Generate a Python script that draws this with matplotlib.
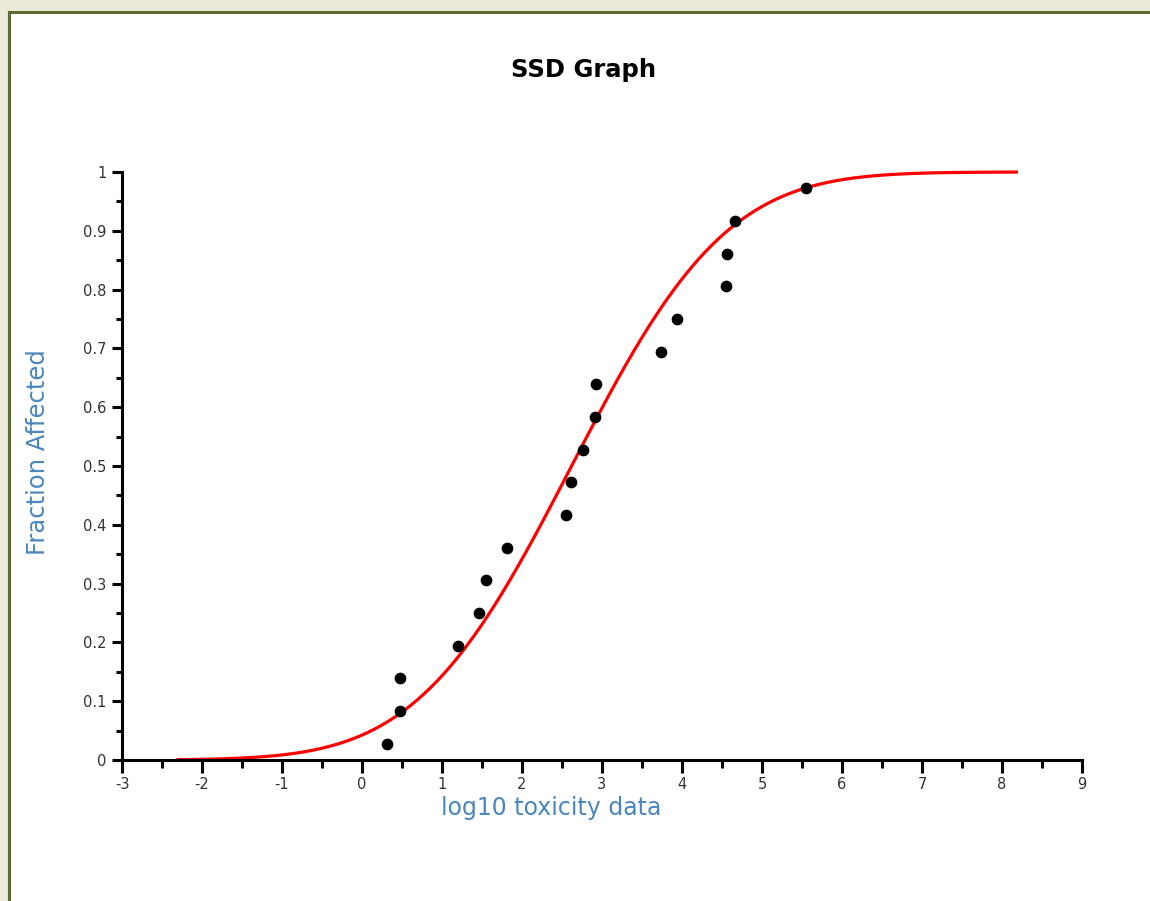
import math

import numpy as np
import matplotlib
matplotlib.use("Agg")
import matplotlib.pyplot as plt
from matplotlib.patches import Rectangle
from matplotlib.ticker import MultipleLocator

# observed species sensitivities (log10 toxicity) and their plotting positions
log_tox = [0.31, 0.47, 0.48, 1.20, 1.46, 1.55, 1.81, 2.55, 2.61,
           2.76, 2.91, 2.93, 3.74, 3.94, 4.55, 4.56, 4.66, 5.55]
frac_affected = [0.028, 0.083, 0.139, 0.194, 0.250, 0.306, 0.361, 0.417, 0.472,
                 0.528, 0.583, 0.639, 0.694, 0.750, 0.806, 0.861, 0.917, 0.972]

# fitted log-normal SSD (mean, sd of log10 toxicity) and drawn range
fit_mu = 2.62
fit_sigma = 1.52
curve_range = (-2.3, 8.18)

x_ticks = list(range(-3, 10))
y_ticks = [0, 0.1, 0.2, 0.3, 0.4, 0.5, 0.6, 0.7, 0.8, 0.9, 1]

blue = "#4A86BE"

fig = plt.figure(figsize=(11.5, 9.01), dpi=100)
fig.patch.set_facecolor("#ECE9D8")
# white panel with olive border
fig.patches.append(Rectangle((9 / 1150, -0.1), 1.2, 1 - 12 / 901 + 0.1,
                             transform=fig.transFigure, facecolor="white",
                             edgecolor="#5B6B35", linewidth=2.2, zorder=-5))

ax = fig.add_axes([122 / 1150, 1 - 760 / 901, 960 / 1150, 588 / 901])
ax.set_facecolor("none")
ax.set_zorder(2)

xc = np.linspace(curve_range[0], curve_range[1], 400)
yc = [0.5 * (1 + math.erf((v - fit_mu) / (fit_sigma * math.sqrt(2)))) for v in xc]
ax.plot(xc, yc, color="#FF0000", lw=2.3, zorder=2, clip_on=False)
ax.scatter(log_tox, frac_affected, s=55, color="black", zorder=3, clip_on=False)

ax.set_xlim(-3, 9)
ax.set_ylim(0, 1)
ax.set_xticks(x_ticks)
ax.set_xticklabels([str(t) for t in x_ticks])
ax.set_yticks(y_ticks)
ax.set_yticklabels(["0"] + ["%.1f" % t for t in y_ticks[1:-1]] + ["1"])
ax.xaxis.set_minor_locator(MultipleLocator(0.5))
ax.yaxis.set_minor_locator(MultipleLocator(0.05))

for s in ["top", "right"]:
    ax.spines[s].set_visible(False)
for s in ["left", "bottom"]:
    ax.spines[s].set_linewidth(2.2)
    ax.spines[s].set_color("black")

ax.tick_params(axis="x", which="major", length=9, width=2.2, labelsize=10.5,
               labelcolor="#333333", pad=3)
ax.tick_params(axis="x", which="minor", length=6, width=2.2)
ax.tick_params(axis="y", which="major", length=7, width=2.2, labelsize=10.5,
               labelcolor="#333333", pad=4)
ax.tick_params(axis="y", which="minor", length=4, width=2.2)

fig.text(584 / 1150, 1 - 70 / 901, "SSD Graph", ha="center", va="center",
         fontsize=17.5, fontweight="bold", color="black")
fig.text(551 / 1150, 1 - 808 / 901, "log10 toxicity data", ha="center",
         va="center", fontsize=17, color=blue)
fig.text(38 / 1150, 1 - 452 / 901, "Fraction Affected", ha="center",
         va="center", rotation=90, fontsize=17.5, color=blue)

fig.savefig("out.png", dpi=100, facecolor=fig.get_facecolor())
